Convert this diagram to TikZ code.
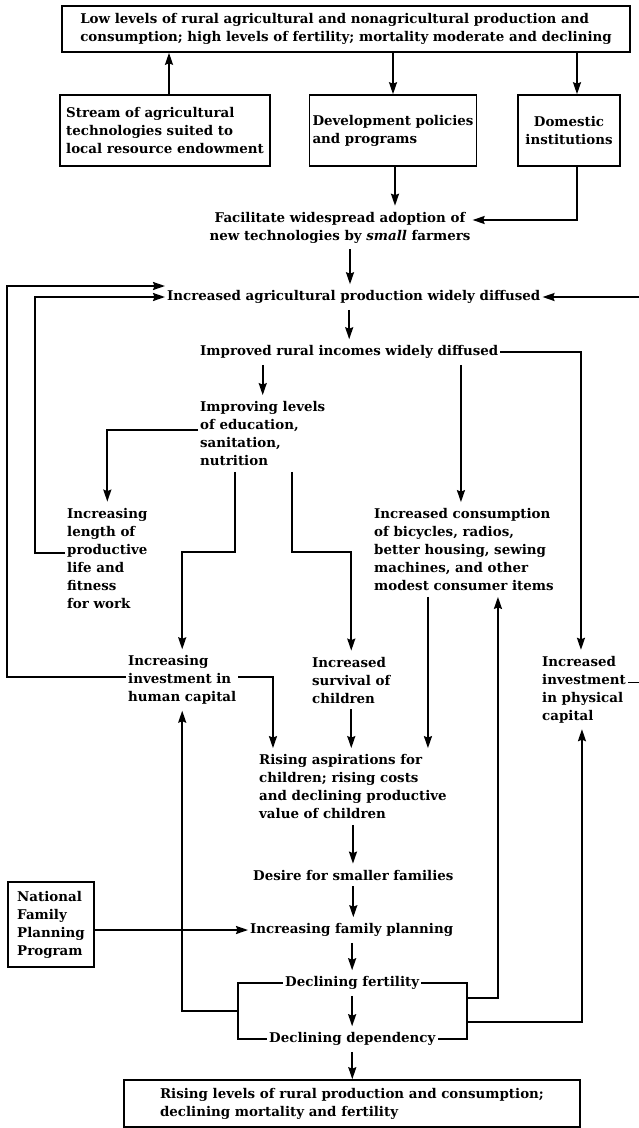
\documentclass[tikz,border=0pt]{standalone}
\usepackage{fontspec}
\setmainfont{DejaVu Serif}
\usetikzlibrary{arrows.meta}
\begin{document}
\begin{tikzpicture}[x=1pt,y=-1pt,
  every node/.style={font=\fontsize{13.4}{18}\selectfont\bfseries},
  txt/.style={anchor=west, align=left, inner xsep=2pt, inner ysep=6pt},
  box/.style={draw, line width=1.6pt, align=left, inner sep=0pt},
  arr/.style={line width=1.8pt, -{Stealth[length=12pt,width=8pt,inset=1.5pt]}},
  ln/.style={line width=1.8pt}]
\useasboundingbox (0,0) rectangle (639,1128);

% boxes
\node[box, minimum width=568pt, minimum height=46pt] (top) at (346,29)
  {Low levels of rural agricultural and nonagricultural production and\\consumption; high levels of fertility; mortality moderate and declining};
\node[box, minimum width=210pt, minimum height=71pt] (stream) at (165,130.5)
  {Stream of agricultural\\technologies suited to\\local resource endowment};
\node[box, minimum width=167pt, minimum height=71pt] (dev) at (393,130.5)
  {Development policies\\and programs};
\node[box, align=center, minimum width=102pt, minimum height=71pt] (dom) at (569,130.5)
  {Domestic\\institutions};
\node[box, minimum width=86pt, minimum height=85pt] (nat) at (51,924.5)
  {National\\Family\\Planning\\Program};
\node[box, minimum width=456pt, minimum height=47pt] (bot) at (352,1103.5)
  {Rising levels of rural production and consumption;\\declining mortality and fertility};

% text nodes
\node[txt, align=center, anchor=center] (fac) at (340,227.5)
  {Facilitate widespread adoption of\\new technologies by \textit{small} farmers};
\node[txt] (agr) at (165,297) {Increased agricultural production widely diffused};
\node[txt] (inc) at (198,352) {Improved rural incomes widely diffused};
\node[txt] (impr) at (198,433.5) {Improving levels\\of education,\\sanitation,\\nutrition};
\node[txt] (len) at (65,558) {Increasing\\length of\\productive\\life and\\fitness\\for work};
\node[txt] (cons) at (372,549.5) {Increased consumption\\of bicycles, radios,\\better housing, sewing\\machines, and other\\modest consumer items};
\node[txt] (hum) at (126,680) {Increasing\\investment in\\human capital};
\node[txt] (surv) at (310,680) {Increased\\survival of\\children};
\node[txt] (phys) at (540,689.5) {Increased\\investment\\in physical\\capital};
\node[txt] (rise) at (257,786.5) {Rising aspirations for\\children; rising costs\\and declining productive\\value of children};
\node[txt] (desire) at (251,875) {Desire for smaller families};
\node[txt] (fp) at (248,930) {Increasing family planning};
\node[txt] (fert) at (283,983) {Declining fertility};
\node[txt] (dep) at (267,1039) {Declining dependency};

% top connectors
\draw[arr] ([xshift=4pt]stream.north) -- ([xshift=4pt]stream.north |- top.south);
\draw[arr] (top.south -| dev.north) -- (dev.north);
\draw[arr] ([xshift=8pt]top.south -| dom.north) -- ([xshift=8pt]dom.north);
\draw[arr] ([xshift=2pt]dev.south) -- ([xshift=2pt]dev.south |- fac.north);
\draw[arr] ([xshift=8pt]dom.south) |- ([yshift=7.5pt]fac.east);
\draw[arr] ([xshift=10pt]fac.south) -- ([xshift=10pt]fac.south |- agr.north);
\draw[arr] (inc.north |- agr.south) -- (inc.north);

% from incomes
\draw[arr] (inc.south -| impr.north) -- (impr.north);
\draw[arr] ([xshift=-3pt]inc.south -| cons.north) -- ([xshift=-3pt]cons.north);
\draw[arr] (inc.east) -| ([xshift=-3pt]phys.north);

% from improving levels
\draw[arr] ([yshift=3.5pt]impr.west) -| (len.north);
\draw[arr] ([xshift=-28pt]impr.south) -- ++(0,80) -| (hum.north);
\draw[arr] ([xshift=29pt]impr.south) -- ++(0,80) -| (surv.north);

% feedback loops to agricultural production
\draw[arr] ([yshift=5pt]len.west) -- ++(-30,0) |- (agr.west);
\draw[arr] ([yshift=3pt]hum.west) -- ++(-119,0) |- ([yshift=11pt]agr.west);
\draw[arr] ([yshift=7pt]phys.east) -- ++(24,0) |- (agr.east);

% into rising aspirations
\draw[arr] ([yshift=3pt]hum.east) -| ([xshift=-80pt]rise.north);
\draw[arr] (surv.south) -- (surv.south |- rise.north);
\draw[arr] ([xshift=-36pt]cons.south) -- ([xshift=-36pt]cons.south |- rise.north);

% main chain
\draw[arr] (rise.south) -- (rise.south |- desire.north);
\draw[arr] (desire.south) -- (desire.south |- fp.north);
\draw[arr] (nat.east |- fp.west) -- (fp.west);
\draw[arr] (fp.south -| fert.north) -- (fert.north);
\draw[arr] (fert.south) -- (fert.south |- dep.north);
\draw[arr] (dep.south) -- (dep.south |- bot.north);

% brackets
\draw[ln] (fert.west) -- ++(-45,0) -- ++(0,28) coordinate (lbm) |- (dep.west);
\draw[ln] (fert.east) -- ++(46,0) -- ++(0,15) coordinate (rb1) -- ++(0,24) coordinate (rb2) |- (dep.east);
\draw[arr] (lbm) -| (hum.south);
\draw[arr] (rb1) -| ([xshift=34pt]cons.south);
\draw[arr] (rb2) -| ([xshift=-2pt]phys.south);
\end{tikzpicture}
\end{document}
